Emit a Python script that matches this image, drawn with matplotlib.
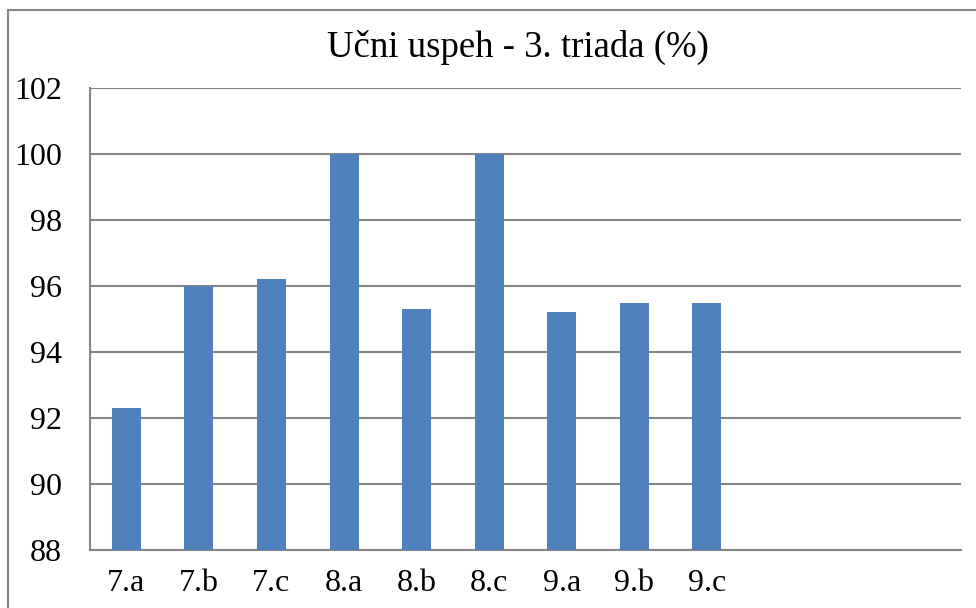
import matplotlib.pyplot as plt
from matplotlib.patches import Rectangle

# Učni uspeh po oddelkih (3. triada)
oddelki = ['7.a', '7.b', '7.c', '8.a', '8.b', '8.c', '9.a', '9.b', '9.c', '', ' ', '  ']
uspeh = [92.3, 96.0, 96.2, 100.0, 95.3, 100.0, 95.2, 95.5, 95.5, None, None, None]
yticks = [88, 90, 92, 94, 96, 98, 100, 102]

plt.rcParams['font.family'] = ['Liberation Serif', 'DejaVu Serif']

fig = plt.figure(figsize=(9.76, 6.08), dpi=100)
ax = fig.add_axes([90/976, 1-550/608, 871/976, 462/608])

x = list(range(len(oddelki)))
vrednosti = [v if v is not None else 0 for v in uspeh]
ax.bar(x, vrednosti, width=0.4, color='#4f81bd', zorder=3)

ax.set_ylim(88, 102)
ax.set_xlim(-0.5, len(oddelki) - 0.5)
ax.set_yticks(yticks)
ax.set_xticks(x)
ax.set_xticklabels(oddelki)
ax.tick_params(axis='both', length=0, labelsize=23)
ax.tick_params(axis='y', pad=20)
ax.tick_params(axis='x', pad=14)
ax.grid(axis='y', color='#868686', linewidth=1.5, zorder=0)
for s in ['top', 'right']:
    ax.spines[s].set_visible(False)
for s in ['left', 'bottom']:
    ax.spines[s].set_color('#868686')
    ax.spines[s].set_linewidth(1.5)

fig.text(518/976, 1-47/608, 'Učni uspeh - 3. triada (%)', ha='center', va='center', fontsize=26.5)

# okvir grafa
fig.patches.append(Rectangle((8/976, -0.1), 1.2, 1.1 - 10/608, transform=fig.transFigure,
                             fill=False, edgecolor='#868686', linewidth=1.5))

fig.savefig('out.png', dpi=100)
